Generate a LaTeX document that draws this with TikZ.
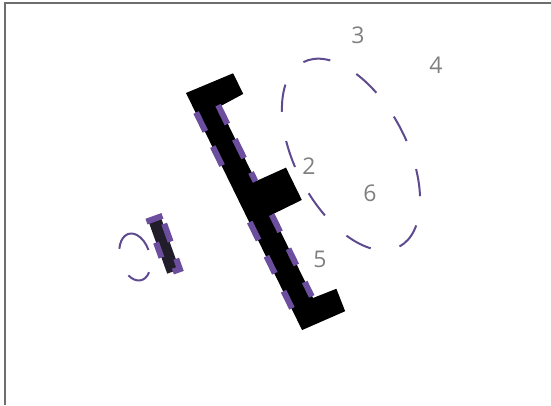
\documentclass[tikz,border=0pt]{standalone}
\usepackage{fontspec}
\setmainfont{Open Sans}
\usetikzlibrary{calc}
\definecolor{TrimPurple}{HTML}{6B4E9E}
\definecolor{RingPurple}{HTML}{5E4A8E}
\definecolor{BarDark}{HTML}{221D2B}
\definecolor{LabelGray}{HTML}{808080}
\definecolor{FrameGray}{HTML}{6E6E6E}

\begin{document}
\begin{tikzpicture}[x=1pt, y=-1pt,
    trim/.style={draw=TrimPurple, line width=6pt},
    ring/.style={draw=RingPurple, line width=2pt},
    num/.style={text=LabelGray, font=\fontsize{23}{23}\selectfont, inner sep=0pt}]
    \useasboundingbox (0,0) rectangle (551,405);

    % Frame
    \draw[FrameGray, line width=1.8pt] (5,405) -- (5,3) -- (551,3);

    % Big ring
    \begin{scope}[shift={(351pt,-154.5pt)}, rotate=27.5]
        \draw[ring, dash pattern=on 27.5pt off 29.6pt, dash phase=13.75pt] (0,0) ellipse [x radius=56, y radius=104];
    \end{scope}

    % Small ring
    \begin{scope}[shift={(135pt,-257pt)}, rotate=15]
        \draw[ring] (210:15 and 24) arc[start angle=210, end angle=352, x radius=15, y radius=24];
        \draw[ring] (50:15 and 24) arc[start angle=50, end angle=138, x radius=15, y radius=24];
    \end{scope}

    % Wall with three arms
    \begin{scope}[shift={(186pt,-93pt)}, x={(0.4396pt,-0.898pt)}, y={(0.898pt,0.4396pt)}]
        \fill[black] (0,0) -- (3,51) -- (26,51) -- (27,24) -- (110,24) -- (111,57) -- (147,57)
            -- (147,24) -- (240,24) -- (242,49) -- (266,47) -- (264,0) -- cycle;
        \foreach \a/\b in {22/43, 60/81, 144/164, 182/201, 221/240}
            \draw[trim] (\a,0.5) -- (\b,0.5);
        \foreach \a/\b in {25/46, 63/84, 100/110, 147/166, 185/203, 222/238}
            \draw[trim] (\a,23.5) -- (\b,23.5);
    \end{scope}

    % Small bar
    \begin{scope}[shift={(148pt,-220pt)}, x={(0.337pt,-0.941pt)}, y={(0.941pt,0.337pt)}]
        \fill[BarDark] (0,0) -- (57,0) -- (57,13) -- (0,13) -- cycle;
        \draw[trim] (1,-2) -- (1,15);
        \draw[trim] (9,14) -- (28,14);
        \draw[trim] (24,0) -- (40,0);
        \draw[trim] (46,13.5) -- (57,13.5) -- (57,6);
    \end{scope}

    % Labels
    \node[num] (num3) at (358,35) {3};
    \node[num] (num4) at (436,65) {4};
    \node[num] (num2) at (309,166.5) {2};
    \node[num] (num6) at (370,193.5) {6};
    \node[num] (num5) at (320,259) {5};
\end{tikzpicture}
\end{document}
